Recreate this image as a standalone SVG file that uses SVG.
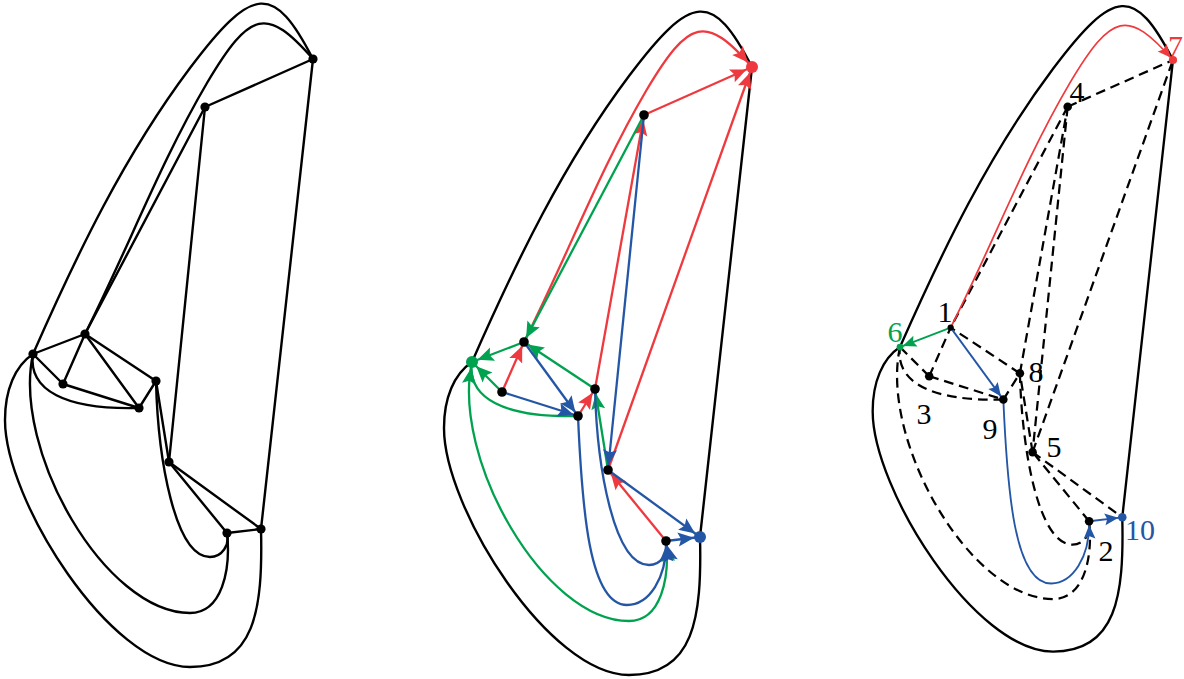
<svg xmlns="http://www.w3.org/2000/svg" width="1184" height="679" viewBox="0 0 1184 679">
<style>
.k{fill:none;stroke:#000;stroke-width:2.4;stroke-linecap:round;stroke-linejoin:round}
.r{fill:none;stroke:#EE3A3E;stroke-width:2.3}
.g{fill:none;stroke:#00A24F;stroke-width:2.3}
.b{fill:none;stroke:#2456A6;stroke-width:2.3}
.rt{fill:none;stroke:#EE3A3E;stroke-width:1.8}
.gt{fill:none;stroke:#00A24F;stroke-width:1.9}
.bt{fill:none;stroke:#2456A6;stroke-width:1.9}
.d{fill:none;stroke:#000;stroke-width:2.3;stroke-dasharray:10 6}
.dot{fill:#000}
.lbl{font-family:"Liberation Serif","Times New Roman",serif;font-size:30px;text-anchor:middle;fill:#000}
</style>
<defs>
<marker id="aR" markerUnits="userSpaceOnUse" markerWidth="20" markerHeight="20" refX="4.5" refY="0" orient="auto" overflow="visible"><path d="M0,0 L-16,-7 L-13,0 L-16,7 Z" fill="#EE3A3E"/></marker>
<marker id="aR2" markerUnits="userSpaceOnUse" markerWidth="20" markerHeight="20" refX="6" refY="0" orient="auto" overflow="visible"><path d="M0,0 L-16,-7 L-13,0 L-16,7 Z" fill="#EE3A3E"/></marker>
<marker id="aG" markerUnits="userSpaceOnUse" markerWidth="20" markerHeight="20" refX="4.5" refY="0" orient="auto" overflow="visible"><path d="M0,0 L-16,-7 L-13,0 L-16,7 Z" fill="#00A24F"/></marker>
<marker id="aG2" markerUnits="userSpaceOnUse" markerWidth="20" markerHeight="20" refX="6" refY="0" orient="auto" overflow="visible"><path d="M0,0 L-16,-7 L-13,0 L-16,7 Z" fill="#00A24F"/></marker>
<marker id="aB" markerUnits="userSpaceOnUse" markerWidth="20" markerHeight="20" refX="4.5" refY="0" orient="auto" overflow="visible"><path d="M0,0 L-16,-7 L-13,0 L-16,7 Z" fill="#2456A6"/></marker>
<marker id="aB2" markerUnits="userSpaceOnUse" markerWidth="20" markerHeight="20" refX="6" refY="0" orient="auto" overflow="visible"><path d="M0,0 L-16,-7 L-13,0 L-16,7 Z" fill="#2456A6"/></marker>
<marker id="sR" markerUnits="userSpaceOnUse" markerWidth="20" markerHeight="20" refX="3" refY="0" orient="auto" overflow="visible"><path d="M0,0 L-14,-6 L-11.5,0 L-14,6 Z" fill="#EE3A3E"/></marker>
<marker id="sG" markerUnits="userSpaceOnUse" markerWidth="20" markerHeight="20" refX="3" refY="0" orient="auto" overflow="visible"><path d="M0,0 L-14,-6 L-11.5,0 L-14,6 Z" fill="#00A24F"/></marker>
<marker id="sB" markerUnits="userSpaceOnUse" markerWidth="20" markerHeight="20" refX="4" refY="0" orient="auto" overflow="visible"><path d="M0,0 L-14,-6 L-11.5,0 L-14,6 Z" fill="#2456A6"/></marker>
</defs>

<!-- LEFT PANEL -->
<g id="left-edges" class="k">
<path d="M33,354 C77,254 124,156 190,68 C253,-16 274,-16.6 313,59"/>
<path d="M85,334 C127,251 160,163 207,83 C250.4,9.9 266.8,6.5 313,59"/>
<path d="M313,59 L205,107"/>
<path d="M313,59 L261,529"/>
<path d="M205,107 L85,334"/>
<path d="M205,107 L169,462"/>
<path d="M33,354 L85,334"/>
<path d="M85,334 L63,384"/>
<path d="M85,334 L139,408"/>
<path d="M85,334 L156,381"/>
<path d="M33,354 L63,384"/>
<path d="M63,384 L139,408"/>
<path d="M156,381 L139,408"/>
<path d="M156,381 L169,462"/>
<path d="M169,462 L227,533"/>
<path d="M169,462 L261,529"/>
<path d="M227,533 L261,529"/>
<path d="M33,354 C28,390 65,410 139,408"/>
<path d="M156,381 C158,460 175,557 210,557 C222,557 230,545 227,533"/>
<path d="M33,354 C12,450 105,613 190,613 C222,613 231,570 227,533"/>
<path d="M33,354 C15,366 5,390 5,420 C5,500 110,667 190,667 C255,667 263,610 261,529"/>
</g>
<g id="left-A"><circle class="dot" cx="313" cy="59" r="4.6"/></g>
<g id="left-B"><circle class="dot" cx="205" cy="107" r="4.6"/></g>
<g id="left-C"><circle class="dot" cx="85" cy="334" r="4.6"/></g>
<g id="left-D"><circle class="dot" cx="33" cy="354" r="4.6"/></g>
<g id="left-E"><circle class="dot" cx="63" cy="384" r="4.6"/></g>
<g id="left-F"><circle class="dot" cx="156" cy="381" r="4.6"/></g>
<g id="left-G"><circle class="dot" cx="139" cy="408" r="4.6"/></g>
<g id="left-H"><circle class="dot" cx="169" cy="462" r="4.6"/></g>
<g id="left-I"><circle class="dot" cx="227" cy="533" r="4.6"/></g>
<g id="left-J"><circle class="dot" cx="261" cy="529" r="4.6"/></g>

<!-- MIDDLE PANEL -->
<g transform="translate(439,8)">
<g id="mid-edges">
<path class="k" d="M33,354 C77,254 124,156 190,68 C253,-16 274,-16.6 313,59"/>
<path class="k" d="M313,59 L261,529"/>
<path class="k" d="M33,354 C15,366 5,390 5,420 C5,500 110,667 190,667 C255,667 263,610 261,529"/>
<path class="r" marker-end="url(#aR2)" d="M85,334 C127,251 160,163 207,83 C250.4,9.9 266.8,6.5 313,59"/>
<path class="r" marker-end="url(#aR2)" d="M205,107 L313,59"/>
<path class="r" marker-end="url(#aR2)" d="M169,462 L313,59"/>
<path class="r" marker-end="url(#aR)" d="M156,381 L205,107"/>
<path class="r" marker-end="url(#aR)" d="M63,384 L85,334"/>
<path class="r" marker-end="url(#aR)" d="M139,408 L156,381"/>
<path class="r" marker-end="url(#aR)" d="M227,533 L169,462"/>
<path class="g" marker-end="url(#aG)" d="M205,107 L85,334"/>
<path class="g" marker-end="url(#aG2)" d="M85,334 L33,354"/>
<path class="g" marker-end="url(#aG)" d="M156,381 L85,334"/>
<path class="g" marker-end="url(#aG2)" d="M63,384 L33,354"/>
<path class="g" marker-end="url(#aG2)" d="M139,408 C65,410 28,390 33,354"/>
<path class="g" marker-end="url(#aG)" d="M169,462 L156,381"/>
<path class="g" marker-end="url(#aG)" d="M33,354 C12,450 105,613 190,613 C222,613 231,570 227,533"/>
<path class="b" marker-end="url(#aB)" d="M205,107 L169,462"/>
<path class="b" marker-end="url(#aB)" d="M85,334 L139,408"/>
<path class="b" marker-end="url(#aB)" d="M63,384 L139,408"/>
<path class="b" marker-end="url(#aB2)" d="M169,462 L261,529"/>
<path class="b" marker-end="url(#aB2)" d="M227,533 L261,529"/>
<path class="b" marker-end="url(#aB)" d="M156,381 C158,460 175,557 210,557 C222,557 230,545 227,533"/>
<path class="b" marker-end="url(#aB)" d="M139,408 C143,500 150,597 188,597 C210,597 228,570 227,533"/>
</g>
<g id="mid-A"><circle cx="313" cy="59" r="6" fill="#EE3A3E"/></g>
<g id="mid-B"><circle class="dot" cx="205" cy="107" r="4.8"/></g>
<g id="mid-C"><circle class="dot" cx="85" cy="334" r="4.8"/></g>
<g id="mid-D"><circle cx="33" cy="354" r="6" fill="#00A24F"/></g>
<g id="mid-E"><circle class="dot" cx="63" cy="384" r="4.8"/></g>
<g id="mid-F"><circle class="dot" cx="156" cy="381" r="4.8"/></g>
<g id="mid-G"><circle class="dot" cx="139" cy="408" r="4.8"/></g>
<g id="mid-H"><circle class="dot" cx="169" cy="462" r="4.8"/></g>
<g id="mid-I"><circle class="dot" cx="227" cy="533" r="4.8"/></g>
<g id="mid-J"><circle cx="261" cy="529" r="6" fill="#2456A6"/></g>
</g>

<!-- RIGHT PANEL -->
<g transform="translate(867.8,2.6) scale(0.975,0.973)">
<g id="right-edges">
<path class="k" d="M33,354 C77,254 124,156 190,68 C253,-16 274,-16.6 313,59"/>
<path class="k" d="M313,59 L261,529"/>
<path class="k" d="M33,354 C15,366 5,390 5,420 C5,500 110,667 190,667 C255,667 263,610 261,529"/>
<path class="d" d="M205,107 L313,59"/>
<path class="d" d="M169,462 L313,59"/>
<path class="d" d="M156,381 L205,107"/>
<path class="d" d="M63,384 L85,334"/>
<path class="d" d="M139,408 L156,381"/>
<path class="d" d="M227,533 L169,462"/>
<path class="d" d="M205,107 L85,334"/>
<path class="d" d="M156,381 L85,334"/>
<path class="d" d="M63,384 L33,354"/>
<path class="d" d="M139,408 C65,410 28,390 33,354"/>
<path class="d" d="M169,462 L156,381"/>
<path class="d" d="M33,354 C12,450 105,613 190,613 C222,613 231,570 227,533"/>
<path class="d" d="M205,107 L169,462"/>
<path class="d" d="M63,384 L139,408"/>
<path class="d" d="M169,462 L261,529"/>
<path class="d" d="M156,381 C158,460 175,557 210,557 C222,557 230,545 227,533"/>
<path class="rt" marker-end="url(#sR)" d="M85,334 C127,251 160,163 207,83 C250.4,9.9 266.8,6.5 313,59"/>
<path class="gt" marker-end="url(#sG)" d="M85,334 L33,354"/>
<path class="bt" marker-end="url(#sB)" d="M85,334 L139,408"/>
<path class="bt" marker-end="url(#sB)" d="M139,408 C143,500 150,597 188,597 C210,597 228,570 227,533"/>
<path class="bt" marker-end="url(#sB)" d="M227,533 L261,529"/>
</g>
<g id="right-A"><circle cx="313" cy="59" r="4.2" fill="#EE3A3E"/></g>
<g id="right-B"><circle class="dot" cx="205" cy="107" r="4.4"/></g>
<g id="right-C"><circle class="dot" cx="85" cy="334" r="3.2"/></g>
<g id="right-D"><circle cx="33" cy="354" r="3.5" fill="#00A24F"/></g>
<g id="right-E"><circle class="dot" cx="63" cy="384" r="4.4"/></g>
<g id="right-F"><circle class="dot" cx="156" cy="381" r="4.4"/></g>
<g id="right-G"><circle class="dot" cx="139" cy="408" r="4.4"/></g>
<g id="right-H"><circle class="dot" cx="169" cy="462" r="4.4"/></g>
<g id="right-I"><circle class="dot" cx="227" cy="533" r="4.4"/></g>
<g id="right-J"><circle cx="261" cy="529" r="4.4" fill="#2456A6"/></g>
</g>
<g id="right-labels">
<text class="lbl" x="1183" y="56" style="text-anchor:end" fill="#EE3A3E"><tspan fill="#EE3A3E">7</tspan></text>
<text class="lbl" x="1077" y="102">4</text>
<text class="lbl" x="945" y="322">1</text>
<text class="lbl" x="895" y="342"><tspan fill="#00A24F">6</tspan></text>
<text class="lbl" x="924" y="424">3</text>
<text class="lbl" x="1036" y="382">8</text>
<text class="lbl" x="990" y="439">9</text>
<text class="lbl" x="1054" y="457">5</text>
<text class="lbl" x="1106" y="561">2</text>
<text class="lbl" x="1140" y="540"><tspan fill="#2456A6">10</tspan></text>
</g>
</svg>
